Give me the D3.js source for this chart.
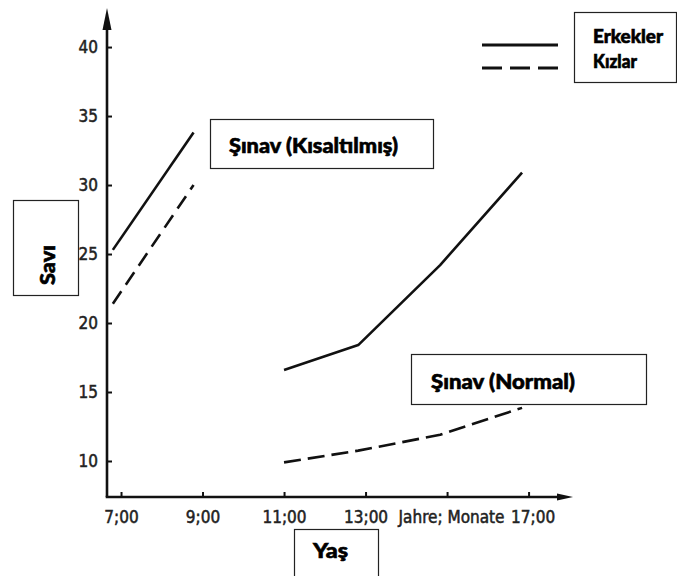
<!DOCTYPE html>
<html><head><meta charset="utf-8">
<script src="https://cdn.jsdelivr.net/npm/d3@7"></script>
<style>
html,body{margin:0;padding:0;background:#fff;}
svg{display:block;}
</style></head>
<body>
<svg id="chart" width="677" height="576"></svg>
<script>
// ---- data ----
const seriesNames = ["Erkekler", "Kızlar"];
const agesShort = [6.8, 8.78];
const boysShort = [25.3, 33.8];
const girlsShort = [21.4, 30.0];
const agesNormal = [11.0, 12.82, 14.83, 16.84];
const boysNormal = [16.6, 18.4, 24.2, 30.9];
const girlsNormal = [9.9, 10.75, 11.9, 13.85];
const yTicks = [10, 15, 20, 25, 30, 35, 40];
const xTicks = [7, 9, 11, 13, 15, 17];
const xTickLabels = ["7;00", "9;00", "11;00", "13;00", "Jahre; Monate", "17;00"];
const boxShort = "Şınav (Kısaltılmış)";
const boxNormal = "Şınav (Normal)";
const yTitle = "Savı";
const xTitle = "Yaş";

const svg = d3.select("#chart");
const x = d3.scaleLinear().domain([6.656, 18.09]).range([107, 573]);
const y = d3.scaleLinear().domain([7.39, 42.83]).range([497, 8]);

const ink = "#111";
const [x0, x1] = x.range();
const [y0, y1] = y.range();

// axes lines
svg.append("line").attr("x1", x0).attr("x2", x0).attr("y1", y0).attr("y2", y1 + 12)
  .attr("stroke", ink).attr("stroke-width", 2.6);
svg.append("line").attr("x1", x0 - 1.3).attr("x2", x1 - 10).attr("y1", y0).attr("y2", y0)
  .attr("stroke", ink).attr("stroke-width", 2.6);
// arrowheads
svg.append("path").attr("d", `M${x0},${y1} L${x0 - 4.5},${y1 + 22} L${x0 + 4.5},${y1 + 22} Z`).attr("fill", ink);
svg.append("path").attr("d", `M${x1},${y0} L${x1 - 16},${y0 - 3.5} L${x1 - 16},${y0 + 3.5} Z`).attr("fill", ink);

const tickText = sel => sel.attr("font-family", "'DejaVu Sans Condensed', 'DejaVu Sans'")
  .attr("font-stretch", "condensed").attr("font-size", 17)
  .attr("fill", "#222").attr("stroke", "#222").attr("stroke-width", 0.5);

// y axis ticks
const yAxis = d3.axisLeft(y).tickValues(yTicks).tickSizeInner(-5).tickSizeOuter(0).tickPadding(9);
const gy = svg.append("g").attr("transform", `translate(${x0},0)`).call(yAxis);
gy.select(".domain").remove();
gy.selectAll("line").attr("stroke", ink).attr("stroke-width", 2);
tickText(gy.selectAll("text"));

// x axis ticks
const xAxis = d3.axisBottom(x).tickValues(xTicks).tickSizeInner(-5).tickSizeOuter(0).tickPadding(14)
  .tickFormat((d, i) => xTickLabels[i]);
const gx = svg.append("g").attr("transform", `translate(0,${y0})`).call(xAxis);
gx.select(".domain").remove();
gx.selectAll("line").attr("stroke", ink).attr("stroke-width", 2);
tickText(gx.selectAll("text"));
gx.selectAll("text").filter((d, i) => i >= 4).attr("dx", 4);

// data lines
const line = d3.line().x(d => x(d[0])).y(d => y(d[1]));
function draw(ages, vals, dash) {
  svg.append("path").datum(ages.map((a, i) => [a, vals[i]]))
    .attr("d", line).attr("fill", "none").attr("stroke", ink)
    .attr("stroke-width", 2.6).attr("stroke-dasharray", dash)
    .attr("stroke-linejoin", "round");
}
draw(agesShort, boysShort, null);
draw(agesShort, girlsShort, "15,8");
draw(agesNormal, boysNormal, null);
draw(agesNormal, girlsNormal, "17,7");

// legend lines
svg.append("line").attr("x1", 482).attr("x2", 558).attr("y1", 45).attr("y2", 45)
  .attr("stroke", ink).attr("stroke-width", 2.8);
svg.append("line").attr("x1", 482).attr("x2", 558).attr("y1", 68).attr("y2", 68)
  .attr("stroke", ink).attr("stroke-width", 2.8).attr("stroke-dasharray", "20,8");

// boxes
function box(bx, by, bw, bh) {
  svg.append("rect").attr("x", bx + 0.5).attr("y", by + 0.5).attr("width", bw).attr("height", bh)
    .attr("fill", "#fff").attr("stroke", "#222").attr("stroke-width", 1.2);
}
const bold = (sel, size, len) => sel.attr("font-family", "Lato, 'Open Sans', sans-serif")
  .attr("font-weight", 900).attr("font-size", size).attr("fill", "#000")
  .attr("stroke", "#000").attr("stroke-width", 0.6)
  .attr("textLength", len).attr("lengthAdjust", "spacingAndGlyphs");

box(574, 12, 102, 70);
bold(svg.append("text").attr("x", 593).attr("y", 43).text(seriesNames[0]), 18, 70);
bold(svg.append("text").attr("x", 593).attr("y", 68).text(seriesNames[1]), 18, 44);

box(210, 119, 223, 49);
bold(svg.append("text").attr("x", 229).attr("y", 153).text(boxShort), 20, 169);

box(411, 354, 235, 50);
bold(svg.append("text").attr("x", 431).attr("y", 389).text(boxNormal), 20, 144);

box(13, 200, 65, 95);
bold(svg.append("text").attr("transform", "translate(55,285) rotate(-90)")
  .text(yTitle), 20, 40);

box(294, 529, 84, 60);
bold(svg.append("text").attr("x", 313).attr("y", 558).text(xTitle), 20, 35);
</script>
</body></html>
